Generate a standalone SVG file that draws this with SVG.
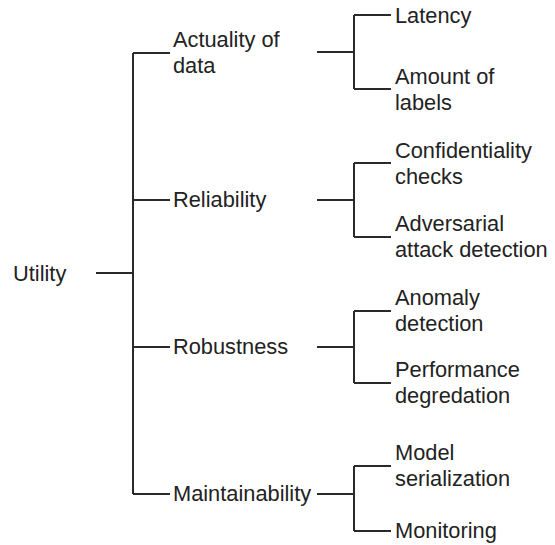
<svg xmlns="http://www.w3.org/2000/svg" width="555" height="545" viewBox="0 0 555 545">
<style>
text{font-family:"Liberation Sans",Arial,sans-serif;font-size:21.8px;fill:#222}
.c path{fill:none;stroke:#2a2a2a;stroke-width:2}
</style>
<rect width="555" height="545" fill="#fff"/>
<g class="c" id="connectors">
<path d="M96 273H133M133 53V494M133 53H170M133 200H170M133 347H170M133 494H170"/>
<path d="M317 52H354M354 15V89M354 15H391M354 89H391"/>
<path d="M317 200H354M354 163V237M354 163H391M354 237H391"/>
<path d="M317 347H354M354 311V383M354 311H391M354 383H391"/>
<path d="M317 494H354M354 466V531M354 466H391M354 531H391"/>
</g>
<g id="utility"><text x="13" y="281">Utility</text></g>
<g id="actuality"><text x="173" y="47">Actuality of</text><text x="173" y="73">data</text></g>
<g id="reliability"><text x="173" y="207">Reliability</text></g>
<g id="robustness"><text x="173" y="354">Robustness</text></g>
<g id="maintainability"><text x="173" y="501">Maintainability</text></g>
<g id="latency"><text x="395" y="23">Latency</text></g>
<g id="amount"><text x="395" y="84">Amount of</text><text x="395" y="110">labels</text></g>
<g id="confidentiality"><text x="395" y="158">Confidentiality</text><text x="395" y="184">checks</text></g>
<g id="adversarial"><text x="395" y="231">Adversarial</text><text x="395" y="257">attack detection</text></g>
<g id="anomaly"><text x="395" y="305">Anomaly</text><text x="395" y="331">detection</text></g>
<g id="performance"><text x="395" y="377">Performance</text><text x="395" y="403">degredation</text></g>
<g id="model"><text x="395" y="460">Model</text><text x="395" y="486">serialization</text></g>
<g id="monitoring"><text x="395" y="538">Monitoring</text></g>
</svg>
